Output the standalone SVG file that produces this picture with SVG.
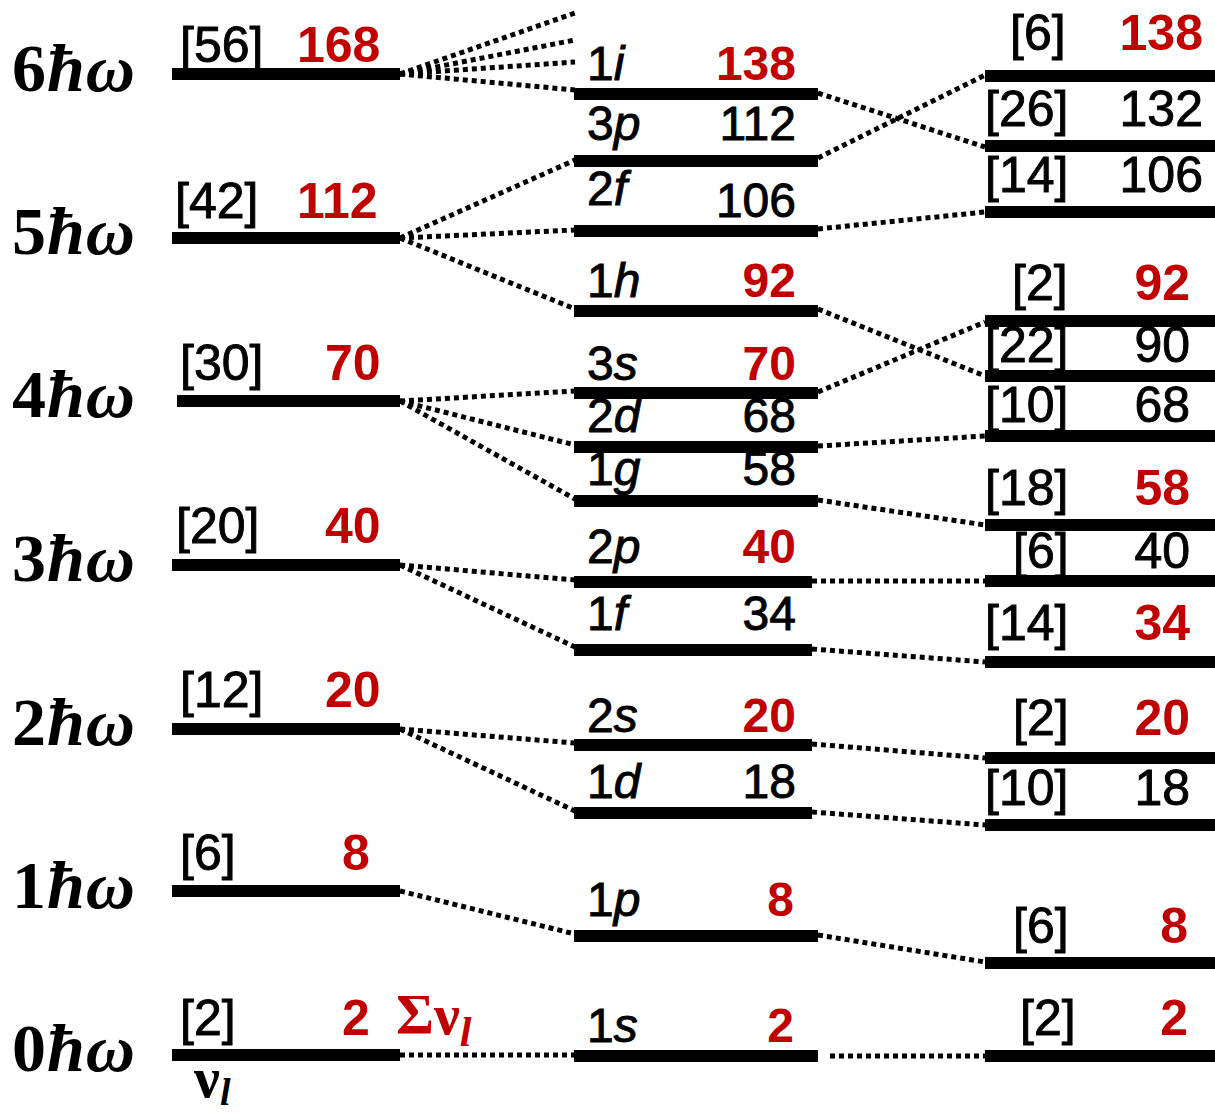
<svg xmlns="http://www.w3.org/2000/svg" width="1215" height="1116" viewBox="0 0 1215 1116">
<style>
.lv{stroke:#000;stroke-width:12;stroke-linecap:butt}
.dc{stroke:#000;stroke-width:5;stroke-dasharray:5 4;fill:none}
.t{font-family:"Liberation Sans",Arial,sans-serif;font-size:50px;fill:#000;stroke:#000;stroke-width:0.9}
.r{font-family:"Liberation Sans",Arial,sans-serif;font-size:50px;font-weight:bold;fill:#c00000}
.m{font-family:"Liberation Sans",Arial,sans-serif;font-size:48px;fill:#000;stroke:#000;stroke-width:0.9}
.mr{font-family:"Liberation Sans",Arial,sans-serif;font-size:48px;font-weight:bold;fill:#c00000}
.e{text-anchor:end}
.hw{font-family:"Liberation Serif","Times New Roman",serif;font-size:68px;font-weight:bold;fill:#000;letter-spacing:1px}
.it{font-style:italic}
</style>
<g id="connectors">
<line class="dc" x1="400" y1="74" x2="575" y2="13"/>
<line class="dc" x1="400" y1="74" x2="575" y2="40"/>
<line class="dc" x1="400" y1="74" x2="575" y2="62"/>
<line class="dc" x1="400" y1="74" x2="575" y2="90"/>
<line class="dc" x1="400" y1="238" x2="575" y2="160"/>
<line class="dc" x1="400" y1="238" x2="575" y2="230"/>
<line class="dc" x1="400" y1="238" x2="575" y2="309"/>
<line class="dc" x1="400" y1="401" x2="575" y2="391"/>
<line class="dc" x1="400" y1="401" x2="575" y2="445"/>
<line class="dc" x1="400" y1="401" x2="575" y2="499"/>
<line class="dc" x1="400" y1="565" x2="575" y2="580"/>
<line class="dc" x1="400" y1="565" x2="575" y2="647"/>
<line class="dc" x1="400" y1="729" x2="575" y2="743"/>
<line class="dc" x1="400" y1="729" x2="575" y2="811"/>
<line class="dc" x1="400" y1="891" x2="575" y2="934"/>
<line class="dc" x1="400" y1="1055" x2="575" y2="1055"/>
<line class="dc" x1="818" y1="93" x2="985" y2="147"/>
<line class="dc" x1="818" y1="158" x2="985" y2="75"/>
<line class="dc" x1="818" y1="229" x2="985" y2="212"/>
<line class="dc" x1="818" y1="309" x2="985" y2="376"/>
<line class="dc" x1="818" y1="392" x2="985" y2="322"/>
<line class="dc" x1="818" y1="446" x2="985" y2="436"/>
<line class="dc" x1="818" y1="500" x2="985" y2="525"/>
<line class="dc" x1="812" y1="581" x2="985" y2="581"/>
<line class="dc" x1="812" y1="649" x2="985" y2="662"/>
<line class="dc" x1="812" y1="744" x2="985" y2="758"/>
<line class="dc" x1="812" y1="812" x2="985" y2="825"/>
<line class="dc" x1="818" y1="935" x2="985" y2="962"/>
<line class="dc" x1="830" y1="1056" x2="985" y2="1056"/>
</g>
<g id="osc6"><text class="hw" x="12" y="91">6<tspan class="it">ħω</tspan></text><line class="lv" x1="172" y1="74" x2="400" y2="74"/><text class="t" x="180" y="62">[56]</text><text class="r" x="297" y="62">168</text></g>
<g id="osc5"><text class="hw" x="12" y="254">5<tspan class="it">ħω</tspan></text><line class="lv" x1="172" y1="238" x2="400" y2="238"/><text class="t" x="175" y="218">[42]</text><text class="r" x="297" y="218">112</text></g>
<g id="osc4"><text class="hw" x="12" y="417">4<tspan class="it">ħω</tspan></text><line class="lv" x1="177" y1="401" x2="400" y2="401"/><text class="t" x="180" y="380">[30]</text><text class="r" x="325" y="380">70</text></g>
<g id="osc3"><text class="hw" x="12" y="581">3<tspan class="it">ħω</tspan></text><line class="lv" x1="172" y1="565" x2="400" y2="565"/><text class="t" x="176" y="543">[20]</text><text class="r" x="325" y="543">40</text></g>
<g id="osc2"><text class="hw" x="12" y="745">2<tspan class="it">ħω</tspan></text><line class="lv" x1="172" y1="729" x2="400" y2="729"/><text class="t" x="180" y="707">[12]</text><text class="r" x="325" y="707">20</text></g>
<g id="osc1"><text class="hw" x="12" y="908">1<tspan class="it">ħω</tspan></text><line class="lv" x1="172" y1="891" x2="400" y2="891"/><text class="t" x="180" y="870">[6]</text><text class="r" x="342" y="870">8</text></g>
<g id="osc0"><text class="hw" x="12" y="1071">0<tspan class="it">ħω</tspan></text><line class="lv" x1="172" y1="1055" x2="400" y2="1055"/><text class="t" x="180" y="1035">[2]</text><text class="r" x="342" y="1035">2</text>
<text x="194" y="1097" font-family="Liberation Serif,serif" font-size="58" font-weight="bold" fill="#000">ν<tspan font-size="38" font-style="italic" dy="8">l</tspan></text>
<text x="396" y="1034" font-family="Liberation Serif,serif" font-size="58" font-weight="bold" fill="#c00000">Σν<tspan font-size="42" font-style="italic" dy="12">l</tspan></text></g>
<g id="m1i"><line class="lv" x1="574" y1="94" x2="818" y2="94"/><text class="m" x="587" y="80">1<tspan class="it">i</tspan></text><text class="mr e" x="796" y="80">138</text></g>
<g id="m3p"><line class="lv" x1="574" y1="161" x2="818" y2="161"/><text class="m" x="587" y="140">3<tspan class="it">p</tspan></text><text class="m e" x="796" y="140">112</text></g>
<g id="m2f"><line class="lv" x1="574" y1="231" x2="818" y2="231"/><text class="m" x="587" y="205">2<tspan class="it">f</tspan></text><text class="m e" x="796" y="217">106</text></g>
<g id="m1h"><line class="lv" x1="574" y1="311" x2="818" y2="311"/><text class="m" x="587" y="297">1<tspan class="it">h</tspan></text><text class="mr e" x="796" y="297">92</text></g>
<g id="m3s"><line class="lv" x1="574" y1="393" x2="818" y2="393"/><text class="m" x="587" y="380">3<tspan class="it">s</tspan></text><text class="mr e" x="796" y="380">70</text></g>
<g id="m2d"><line class="lv" x1="574" y1="447" x2="818" y2="447"/><text class="m" x="587" y="432">2<tspan class="it">d</tspan></text><text class="m e" x="796" y="432">68</text></g>
<g id="m1g"><line class="lv" x1="574" y1="501" x2="818" y2="501"/><text class="m" x="587" y="485">1<tspan class="it">g</tspan></text><text class="m e" x="796" y="485">58</text></g>
<g id="m2p"><line class="lv" x1="574" y1="582" x2="812" y2="582"/><text class="m" x="587" y="563">2<tspan class="it">p</tspan></text><text class="mr e" x="796" y="563">40</text></g>
<g id="m1f"><line class="lv" x1="574" y1="650" x2="812" y2="650"/><text class="m" x="587" y="630">1<tspan class="it">f</tspan></text><text class="m e" x="796" y="630">34</text></g>
<g id="m2s"><line class="lv" x1="574" y1="745" x2="812" y2="745"/><text class="m" x="587" y="732">2<tspan class="it">s</tspan></text><text class="mr e" x="796" y="732">20</text></g>
<g id="m1d"><line class="lv" x1="574" y1="813" x2="812" y2="813"/><text class="m" x="587" y="798">1<tspan class="it">d</tspan></text><text class="m e" x="796" y="798">18</text></g>
<g id="m1p"><line class="lv" x1="574" y1="936" x2="818" y2="936"/><text class="m" x="587" y="916">1<tspan class="it">p</tspan></text><text class="mr e" x="794" y="916">8</text></g>
<g id="m1s"><line class="lv" x1="574" y1="1056" x2="818" y2="1056"/><text class="m" x="587" y="1042">1<tspan class="it">s</tspan></text><text class="mr e" x="794" y="1042">2</text></g>
<g id="r1"><line class="lv" x1="985" y1="76" x2="1215" y2="76"/><text class="t" x="1010" y="50">[6]</text><text class="r e" x="1203" y="50">138</text></g>
<g id="r2"><line class="lv" x1="985" y1="146" x2="1215" y2="146"/><text class="t" x="985" y="126">[26]</text><text class="t e" x="1203" y="126">132</text></g>
<g id="r3"><line class="lv" x1="985" y1="212" x2="1215" y2="212"/><text class="t" x="985" y="192">[14]</text><text class="t e" x="1203" y="192">106</text></g>
<g id="r4"><line class="lv" x1="985" y1="321" x2="1215" y2="321"/><text class="t" x="1012" y="300">[2]</text><text class="r e" x="1190" y="300">92</text></g>
<g id="r5"><line class="lv" x1="985" y1="376" x2="1215" y2="376"/><text class="t" x="985" y="362">[22]</text><text class="t e" x="1190" y="362">90</text></g>
<g id="r6"><line class="lv" x1="985" y1="436" x2="1215" y2="436"/><text class="t" x="985" y="422">[10]</text><text class="t e" x="1190" y="422">68</text></g>
<g id="r7"><line class="lv" x1="985" y1="525" x2="1215" y2="525"/><text class="t" x="985" y="505">[18]</text><text class="r e" x="1190" y="505">58</text></g>
<g id="r8"><line class="lv" x1="985" y1="581" x2="1215" y2="581"/><text class="t" x="1013" y="568">[6]</text><text class="t e" x="1190" y="568">40</text></g>
<g id="r9"><line class="lv" x1="985" y1="662" x2="1215" y2="662"/><text class="t" x="985" y="640">[14]</text><text class="r e" x="1190" y="640">34</text></g>
<g id="r10"><line class="lv" x1="985" y1="758" x2="1215" y2="758"/><text class="t" x="1013" y="735">[2]</text><text class="r e" x="1190" y="735">20</text></g>
<g id="r11"><line class="lv" x1="985" y1="825" x2="1215" y2="825"/><text class="t" x="985" y="805">[10]</text><text class="t e" x="1190" y="805">18</text></g>
<g id="r12"><line class="lv" x1="985" y1="963" x2="1215" y2="963"/><text class="t" x="1013" y="943">[6]</text><text class="r e" x="1188" y="943">8</text></g>
<g id="r13"><line class="lv" x1="985" y1="1056" x2="1215" y2="1056"/><text class="t" x="1020" y="1035">[2]</text><text class="r e" x="1188" y="1035">2</text></g>
</svg>
